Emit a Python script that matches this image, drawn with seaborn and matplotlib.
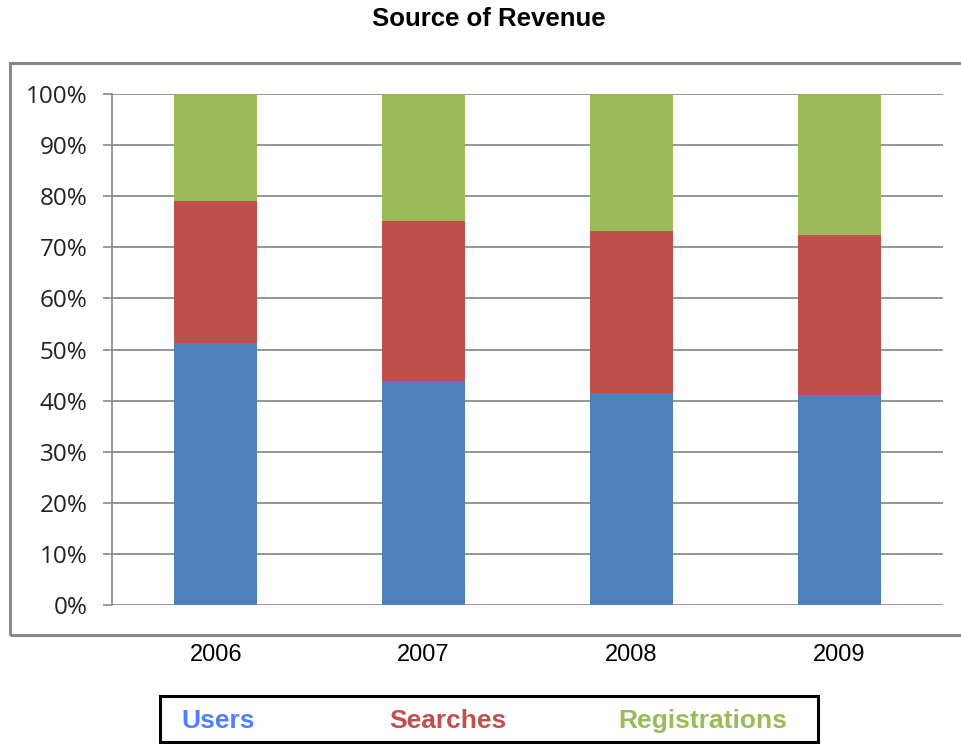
import matplotlib
matplotlib.use("Agg")
import matplotlib.pyplot as plt
import seaborn as sns
import pandas as pd
import numpy as np
from matplotlib.patches import Rectangle

years = ["2006", "2007", "2008", "2009"]
series = ["Users", "Searches", "Registrations"]
users = [51.3, 43.8, 41.5, 41.1]
searches = [27.8, 31.3, 31.7, 31.3]
registrations = [20.9, 24.9, 26.8, 27.6]
bar_colors = ["#4F81BD", "#C0504D", "#9BBB59"]
legend_colors = ["#4F7FFF", "#C0504D", "#9BBB59"]
yticks = [0, 10, 20, 30, 40, 50, 60, 70, 80, 90, 100]

sns.set_theme(style="white")
plt.rcParams['font.family'] = ['Liberation Sans', 'DejaVu Sans']

df = pd.DataFrame({"year": years, "Users": users, "Searches": searches,
                   "Registrations": registrations})
df["c1"] = df["Users"]
df["c2"] = df["Users"] + df["Searches"]
df["c3"] = df["c2"] + df["Registrations"]

fig = plt.figure(figsize=(9.61, 7.44), dpi=100)
ax = fig.add_axes([112/961, 1-605/744, (943-112)/961, (605-94)/744])

for col, c in zip(["c3", "c2", "c1"], bar_colors[::-1]):
    sns.barplot(data=df, x="year", y=col, order=years, color=c, saturation=1,
                width=0.4, ax=ax, linewidth=0)

ax.set_xlim(-0.5, 3.5)
ax.set_ylim(0, 100)
ax.set_yticks(yticks)
ax.set_yticklabels([f"{v}%" for v in yticks], fontsize=17.5, color="#222222",
                   family=['Open Sans', 'DejaVu Sans'])
ax.tick_params(axis='y', length=6.5, width=1.2, color="#888888", pad=11, left=True)
ax.tick_params(axis='x', length=0, pad=28, labelsize=17, labelcolor="#000000")
ax.set_xlabel("")
ax.set_ylabel("")
ax.yaxis.grid(True, color="#8c8c8c", linewidth=1.3)
ax.xaxis.grid(False)
ax.set_axisbelow(True)
for s in ["top", "right", "bottom"]:
    ax.spines[s].set_visible(False)
ax.spines["left"].set_color("#888888")
ax.spines["left"].set_linewidth(1.2)

# outer chart border
fig.patches.append(Rectangle((10/961, 1-635/744), 960/961, (635-63)/744,
                             transform=fig.transFigure, fill=False,
                             edgecolor="#888888", linewidth=2.2))

fig.text(489/961, 1-19/744, "Source of Revenue", ha="center", va="center",
         fontsize=18.5, fontweight="bold", color="#000000")

# legend box
fig.patches.append(Rectangle((160/961, 1-742/744), (818-160)/961, (742-696)/744,
                             transform=fig.transFigure, fill=False,
                             edgecolor="#000000", linewidth=2.2))
for name, xc, c in zip(series, [218, 448, 703], legend_colors):
    fig.text(xc/961, 1-721/744, name, ha="center", va="center",
             fontsize=19, fontweight="bold", color=c)

fig.savefig("out.png", dpi=100)
